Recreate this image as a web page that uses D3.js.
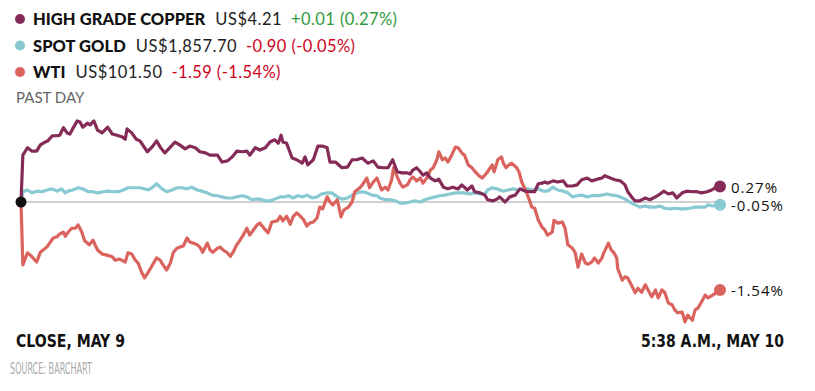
<!DOCTYPE html>
<html><head><meta charset="utf-8">
<script src="https://cdn.jsdelivr.net/npm/d3@7"></script>
<style>
html,body{margin:0;padding:0;background:#fff;}
svg{display:block;}
</style></head>
<body>
<script>
// minutes since close (May 9) and % change
const copperT = [0,2,7,12,17,21,26,29,34,39,42,46,50,53,56,61,64,67,72,75,79,83,88,94,99,104,110,113,115,120,125,129,137,142,147,151,156,162,167,172,178,183,189,194,200,205,213,218,224,229,234,240,245,248,254,259,265,270,275,279,282,284,288,294,299,305,308,311,317,322,327,332,335,341,348,354,359,364,370,376,382,387,393,398,403,408,413,419,422,425,429,433,436,440,444,449,453,458,463,468,474,478,484,489,492,498,503,506,512,516,519,525,530,536,541,547,552,557,561,565,568,571,577,582,588,592,598,603,608,614,619,625,630,633,639,644,650,655,658,663,666,671,677,682,688,693,697,702,707,711,717,722,728,733,738,744,749,753,758];
const copperV = [0,0.82,0.95,0.89,0.89,1.00,1.05,1.07,1.16,1.16,1.17,1.30,1.21,1.19,1.28,1.42,1.40,1.31,1.38,1.35,1.42,1.26,1.21,1.31,1.19,1.17,1.14,1.10,1.28,1.21,1.10,1.07,0.88,0.96,1.07,0.96,0.86,0.96,1.05,1.00,0.93,0.98,0.95,0.88,0.86,0.82,0.82,0.70,0.72,0.79,0.89,0.88,0.89,0.82,0.95,0.91,0.95,1.05,1.09,1.03,1.17,1.05,1.03,0.77,0.74,0.68,0.79,0.65,0.74,0.98,0.98,0.95,0.70,0.70,0.60,0.61,0.74,0.74,0.77,0.68,0.72,0.61,0.60,0.60,0.74,0.53,0.51,0.51,0.49,0.56,0.60,0.53,0.47,0.51,0.42,0.37,0.40,0.26,0.23,0.26,0.23,0.30,0.21,0.28,0.18,0.16,0.12,0.04,0.02,0.05,0.09,0,0.09,0.12,0.23,0.19,0.18,0.18,0.32,0.33,0.35,0.33,0.37,0.35,0.37,0.28,0.28,0.30,0.39,0.42,0.37,0.40,0.42,0.46,0.42,0.39,0.37,0.30,0.18,0.07,0.02,0.02,0.07,0.04,0.09,0.14,0.19,0.14,0.16,0.07,0.16,0.19,0.18,0.18,0.16,0.18,0.21,0.25,0.27];

const goldT = [0,2,7,12,17,23,28,34,39,44,48,51,56,62,67,73,78,83,89,94,100,105,111,116,121,129,134,138,143,147,153,158,164,169,175,180,185,191,196,202,207,213,218,223,229,234,240,245,250,255,259,265,270,275,281,286,290,295,300,306,310,316,321,326,332,337,343,348,354,359,364,370,375,381,386,389,395,400,406,411,416,422,427,433,438,444,449,454,460,465,471,476,481,487,492,498,503,506,511,516,523,528,534,539,544,550,555,561,566,571,577,582,588,593,598,603,608,614,619,625,630,635,641,646,650,655,660,666,671,677,682,688,693,698,704,709,715,720,725,731,736,742,745,750,758];
const goldV = [0,0.18,0.21,0.16,0.19,0.18,0.21,0.23,0.19,0.23,0.16,0.19,0.21,0.25,0.23,0.18,0.18,0.16,0.18,0.19,0.18,0.18,0.21,0.25,0.25,0.25,0.23,0.21,0.26,0.32,0.23,0.18,0.21,0.25,0.25,0.23,0.26,0.21,0.19,0.16,0.12,0.11,0.09,0.07,0.07,0.09,0.11,0.09,0.04,0.05,0.05,0.02,0.02,0.05,0.09,0.09,0.11,0.07,0.11,0.09,0.12,0.07,0.09,0.14,0.16,0.16,0.09,0.05,0.07,0.12,0.16,0.18,0.16,0.12,0.11,0.07,0.04,0.04,0.02,-0.02,-0.02,0,0.02,0,0.04,0.07,0.09,0.11,0.12,0.14,0.16,0.16,0.16,0.14,0.16,0.14,0.14,0.21,0.25,0.23,0.19,0.21,0.23,0.21,0.23,0.23,0.21,0.23,0.19,0.19,0.26,0.21,0.19,0.16,0.09,0.11,0.12,0.09,0.11,0.11,0.12,0.14,0.12,0.11,0.09,0.05,0,-0.05,-0.09,-0.07,-0.09,-0.09,-0.07,-0.11,-0.12,-0.11,-0.12,-0.12,-0.11,-0.09,-0.09,-0.09,-0.05,-0.07,-0.05];

const wtiT = [0,2,7,12,17,21,24,28,31,35,39,42,46,48,51,55,59,62,66,69,74,78,83,88,93,99,102,107,113,116,120,124,127,131,134,138,143,147,151,154,158,162,165,169,172,176,180,183,187,191,194,197,202,205,208,213,216,219,223,227,230,234,237,241,245,248,252,256,259,265,268,272,278,281,284,288,292,295,299,303,306,310,313,317,321,324,327,332,335,338,343,347,350,355,359,362,368,371,375,378,382,386,391,395,398,402,404,408,411,414,419,422,425,429,433,436,440,444,447,451,453,457,460,463,467,471,474,478,481,485,489,492,496,500,503,506,511,513,516,517,521,523,526,529,532,537,540,543,547,550,554,557,561,565,568,571,576,578,582,587,590,593,598,601,604,608,612,615,619,622,626,630,632,637,640,643,646,647,652,655,658,663,666,669,673,677,680,684,688,691,695,698,702,706,709,712,717,720,723,728,731,734,738,742,745,750,758];
const wtiV = [0,-1.10,-0.89,-0.96,-1.05,-0.88,-0.84,-0.79,-0.72,-0.63,-0.61,-0.56,-0.53,-0.60,-0.53,-0.46,-0.46,-0.40,-0.53,-0.68,-0.75,-0.67,-0.84,-0.91,-0.93,-0.96,-1.02,-1.00,-1.05,-0.89,-0.91,-1.02,-1.07,-1.24,-1.33,-1.23,-1.09,-0.98,-1.02,-1.10,-1.19,-1.07,-0.89,-0.81,-0.79,-0.77,-0.63,-0.70,-0.72,-0.75,-0.79,-0.88,-0.72,-0.84,-0.88,-0.81,-0.79,-0.84,-0.88,-0.95,-0.88,-0.75,-0.68,-0.58,-0.46,-0.58,-0.49,-0.40,-0.37,-0.49,-0.54,-0.35,-0.33,-0.25,-0.33,-0.25,-0.39,-0.26,-0.19,-0.25,-0.30,-0.42,-0.37,-0.35,-0.28,-0.09,-0.12,0.09,0,-0.05,0.04,-0.26,-0.14,-0.09,0,0.18,0.26,0.32,0.42,0.25,0.35,0.42,0.21,0.26,0.21,0.39,0.60,0.44,0.33,0.26,0.30,0.39,0.44,0.37,0.42,0.33,0.42,0.56,0.60,0.74,0.88,0.74,0.77,0.70,0.82,0.96,0.95,0.86,0.82,0.65,0.60,0.54,0.47,0.42,0.47,0.53,0.65,0.53,0.68,0.74,0.79,0.68,0.60,0.65,0.68,0.61,0.53,0.35,0.21,0.09,-0.09,-0.11,-0.32,-0.44,-0.49,-0.58,-0.53,-0.32,-0.37,-0.35,-0.46,-0.75,-0.81,-0.89,-1.14,-0.91,-1.07,-1.09,-1.05,-0.98,-1.07,-0.98,-0.89,-0.72,-0.84,-0.89,-0.98,-1.16,-1.37,-1.31,-1.33,-1.49,-1.59,-1.51,-1.58,-1.45,-1.54,-1.66,-1.54,-1.68,-1.54,-1.58,-1.77,-1.80,-1.89,-1.94,-1.93,-2.10,-1.98,-2.07,-1.89,-1.86,-1.75,-1.63,-1.68,-1.63,-1.54];

const names = ["HIGH GRADE COPPER","SPOT GOLD","WTI"];
const prices = ["US$4.21","US$1,857.70","US$101.50"];
const changes = ["+0.01 (0.27%)","-0.90 (-0.05%)","-1.59 (-1.54%)"];
const endLabels = ["0.27%","-0.05%","-1.54%"];
const colors = ["#842b57","#88c9d2","#da635e"];
const changeColors = ["#2f9a3e","#d0021b","#d0021b"];
const xLabels = ["CLOSE, MAY 9","5:38 A.M., MAY 10"];

const W = 815, H = 391;
const svg = d3.select("body").append("svg").attr("width",W).attr("height",H);

const x = d3.scaleLinear().domain([0,758]).range([21,720]);
const y = d3.scaleLinear().domain([-2.2,1.5]).range([202+2.2*57.1, 202-1.5*57.1]);

// legend
const legend = svg.append("g");
names.forEach((n,i)=>{
  const cy = 19 + i*26.5;
  legend.append("circle").attr("cx",20).attr("cy",cy).attr("r",5).attr("fill",colors[i]);
  const t = legend.append("text").attr("x",33).attr("y",cy+6)
    .style("font-family","Lato, 'Open Sans', sans-serif").style("font-size","16.5px");
  t.append("tspan").text(n).style("font-weight","900").style("letter-spacing","0.05px").attr("fill","#111");
  t.append("tspan").text(prices[i]).attr("dx",10).attr("fill","#222").style("letter-spacing","0.5px");
  t.append("tspan").text(changes[i]).attr("dx",9).attr("fill",changeColors[i]).style("letter-spacing","0.4px");
});
svg.append("text").attr("x",16).attr("y",103).text("PAST DAY")
  .attr("fill","#666").style("font-family","Lato, 'Open Sans', sans-serif").style("font-size","15px");

// baseline
svg.append("line").attr("x1",x(0)).attr("x2",x(758)).attr("y1",y(0)).attr("y2",y(0))
  .attr("stroke","#d0d0d0").attr("stroke-width",2);

const series = [[copperT,copperV],[goldT,goldV],[wtiT,wtiV]];
const line = d3.line().x(d=>x(d[0])).y(d=>y(d[1]));
const order = [1,2,0];
order.forEach(i=>{
  const [T,V] = series[i];
  const pts = T.map((t,k)=>[t,V[k]]);
  svg.append("path").datum(pts).attr("d",line).attr("fill","none")
    .attr("stroke",colors[i]).attr("stroke-width",3.2).attr("stroke-linejoin","round");
});
series.forEach(([T,V],i)=>{
  const lt = T[T.length-1], lv = V[V.length-1];
  svg.append("circle").attr("cx",x(lt)).attr("cy",y(lv)).attr("r",6).attr("fill",colors[i]);
  svg.append("text").attr("x",x(lt)+11).attr("y",y(lv)+6).text(endLabels[i])
    .attr("fill","#111").style("font-family","'Open Sans', sans-serif").style("font-size","15px").style("letter-spacing","1px");
});
svg.append("circle").attr("cx",x(0)).attr("cy",y(0)).attr("r",5.5).attr("fill","#111");

// bottom labels
const condensed = "'Liberation Sans Narrow','DejaVu Sans Condensed', sans-serif";
svg.append("text").attr("x",16).attr("y",347).text(xLabels[0])
  .attr("textLength",109).attr("lengthAdjust","spacingAndGlyphs")
  .attr("fill","#111").style("font-family",condensed).style("font-weight","bold").style("font-size","18.5px");
svg.append("text").attr("x",784).attr("y",347).attr("text-anchor","end").text(xLabels[1])
  .attr("textLength",143).attr("lengthAdjust","spacingAndGlyphs")
  .attr("fill","#111").style("font-family",condensed).style("font-weight","bold").style("font-size","18.5px");
svg.append("text").attr("x",10).attr("y",374).text("SOURCE: BARCHART")
  .attr("textLength",82).attr("lengthAdjust","spacingAndGlyphs")
  .attr("fill","#aaa").style("font-family",condensed).style("font-size","15.5px");
</script>
</body></html>
